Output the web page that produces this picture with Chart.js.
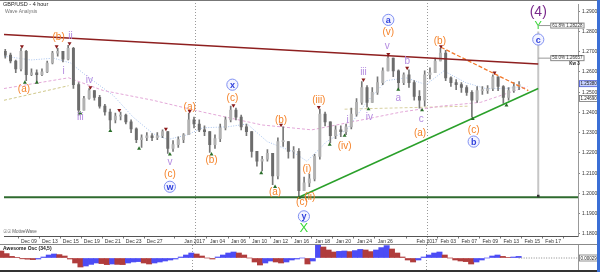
<!DOCTYPE html>
<html><head><meta charset="utf-8">
<script src="https://cdn.jsdelivr.net/npm/chart.js@4.4.0/dist/chart.umd.min.js"></script>
<style>
html,body{margin:0;padding:0;background:#fff;width:600px;height:272px;overflow:hidden;font-family:"Liberation Sans",Arial,sans-serif;}
#c1{position:absolute;left:0;top:0;}
#c2{position:absolute;left:0;top:245px;}
.t{position:absolute;white-space:nowrap;line-height:1;}
.ln{position:absolute;}
</style></head><body>
<canvas id="c1" width="600" height="245"></canvas>
<canvas id="c2" width="600" height="25"></canvas>
<div class="ln" style="left:0;top:0;width:597px;height:1px;background:#777"></div>
<div class="t" style="left:3px;top:2px;font-size:5.5px;color:#222">GBP/USD - 4 hour</div>
<div class="t" style="left:5px;top:9px;font-size:5px;color:#777">Wave Analysis</div>
<div class="t" style="left:3px;top:229.5px;font-size:4.5px;color:#555">&#9737;&#9737; MotiveWave</div>
<div class="ln" style="left:0;top:244px;width:597px;height:1px;background:#888"></div>
<div class="t" style="left:3px;top:245.5px;font-size:5px;font-weight:bold;color:#222">Awesome Osc (34,5)</div>
<div class="ln" style="left:0;top:270px;width:597px;height:2px;background:#333"></div>
<div class="ln" style="left:597px;top:0;width:3px;height:272px;background:#3b6fd6"></div>
<script>
// ---------- data ----------
const firstCandleDay = -2.25;   // trading-day index of first 12h candle (Dec 09 = 0)
const candleStep = 0.5;
const firstOpen = 1.2702;
const closes = [1.2683,1.2654,1.2615,1.2702,1.2586,1.2596,1.2586,1.2600,1.2644,1.2693,
 1.2702,1.2663,1.2717,1.2537,1.2411,1.2469,1.2508,1.2474,1.2431,1.2402,
 1.2363,1.2382,1.2387,1.2353,1.2319,1.2266,1.2275,1.2285,1.2275,1.2285,
 1.2305,1.2222,1.2241,1.2266,1.2290,1.2363,1.2343,1.2314,1.2305,1.2241,
 1.2271,1.2324,1.2363,1.2411,1.2377,1.2329,1.2305,1.2208,1.2159,1.2169,
 1.2198,1.2086,1.2256,1.2256,1.2208,1.2208,1.2014,1.2052,1.2072,1.2183,
 1.2392,1.2353,1.2285,1.2314,1.2305,1.2329,1.2392,1.2450,1.2523,1.2450,
 1.2499,1.2547,1.2605,1.2668,1.2605,1.2547,1.2586,1.2547,1.2479,1.2460,
 1.2586,1.2596,1.2654,1.2693,1.2571,1.2547,1.2537,1.2523,1.2499,1.2460,
 1.2508,1.2508,1.2518,1.2576,1.2528,1.2474,1.2508,1.2528,1.2537];
const highs = [1.2712,1.2693,1.2659,1.2717,1.2707,1.2615,1.2610,1.2615,1.2654,1.2702,
 1.2717,1.2702,1.2731,1.2722,1.2547,1.2479,1.2518,1.2508,1.2484,1.2440,
 1.2416,1.2397,1.2402,1.2392,1.2363,1.2324,1.2290,1.2300,1.2295,1.2300,
 1.2314,1.2305,1.2261,1.2280,1.2295,1.2397,1.2377,1.2363,1.2334,1.2305,
 1.2290,1.2343,1.2377,1.2431,1.2421,1.2387,1.2343,1.2305,1.2208,1.2183,
 1.2217,1.2198,1.2275,1.2329,1.2256,1.2232,1.2222,1.2081,1.2096,1.2193,
 1.2416,1.2402,1.2353,1.2334,1.2334,1.2343,1.2421,1.2469,1.2552,1.2532,
 1.2523,1.2576,1.2620,1.2683,1.2668,1.2610,1.2596,1.2610,1.2557,1.2508,
 1.2605,1.2620,1.2668,1.2717,1.2707,1.2576,1.2562,1.2547,1.2532,1.2508,
 1.2528,1.2528,1.2532,1.2586,1.2576,1.2532,1.2523,1.2547,1.2552];
const lows = [1.2668,1.2644,1.2596,1.2605,1.2557,1.2581,1.2552,1.2581,1.2596,1.2639,
 1.2678,1.2649,1.2659,1.2518,1.2387,1.2411,1.2465,1.2460,1.2421,1.2387,
 1.2319,1.2348,1.2363,1.2343,1.2300,1.2251,1.2227,1.2261,1.2261,1.2266,
 1.2275,1.2198,1.2208,1.2227,1.2251,1.2290,1.2324,1.2305,1.2285,1.2203,
 1.2222,1.2256,1.2314,1.2353,1.2363,1.2314,1.2285,1.2179,1.2135,1.2111,
 1.2159,1.2043,1.2072,1.2232,1.2174,1.2174,1.1989,1.2014,1.2033,1.2062,
 1.2169,1.2334,1.2251,1.2271,1.2280,1.2290,1.2319,1.2382,1.2440,1.2426,
 1.2450,1.2489,1.2537,1.2605,1.2576,1.2518,1.2537,1.2523,1.2460,1.2421,
 1.2431,1.2566,1.2596,1.2654,1.2557,1.2528,1.2513,1.2499,1.2484,1.2377,
 1.2450,1.2489,1.2494,1.2508,1.2508,1.2445,1.2460,1.2499,1.2513];
// Awesome Oscillator (pips)
const aoValues = [35,22,8,2,-4,-6,-8,-5,5,15,
 20,17,10,-5,-25,-45,-40,-32,-25,-28,
 -33,-30,-32,-33,-25,-20,-18,-25,-30,-25,
 -20,-15,-10,-5,5,15,25,20,10,0,
 -5,5,15,25,30,25,15,0,-20,-35,
 -25,-15,-20,-25,-20,-10,-5,0,-30,-15,
 65,55,40,30,33,35,32,37,43,40,
 32,40,52,62,45,25,5,-10,-20,-10,
 5,15,25,30,15,0,-10,-15,-18,-30,
 -20,-10,0,10,15,8,3,5,8];
// pink dashed MA, light blue dotted MA (day, price)
const pinkMA = [[-2.37,1.2518],[3.79,1.2571],[7.10,1.2508],[11.84,1.2460],[16.57,1.2402],[22.25,1.2338],[26.99,1.2314],[30.78,1.2353],[35.51,1.2402],[39.30,1.2431],[43.09,1.2450],[47.54,1.2528]];
const blueMA = [[-2.37,1.2678],[0.19,1.2659],[2.37,1.2668],[3.98,1.2644],[5.49,1.2581],[8.05,1.2484],[9.94,1.2377],[11.84,1.2295],[13.26,1.2266],[15.15,1.2290],[16.57,1.2324],[18.94,1.2329],[20.83,1.2343],[22.73,1.2256],[25.09,1.2208],[26.52,1.2159],[28.41,1.2256],[30.30,1.2314],[32.20,1.2450],[34.09,1.2557],[35.98,1.2571],[37.88,1.2537],[39.58,1.2605],[41.67,1.2547],[43.56,1.2518],[45.45,1.2518],[47.06,1.2528]];
const khakiA = [[-2.37,1.2460],[3.79,1.2532]];
const khakiB = [[30.11,1.2416],[42.0,1.2431]];
// trend lines
const resistanceLine = [[-2.37,1.2785],[48.58,1.2639]];
const flatSupport = [[-2.37,1.1981],[52.37,1.1981]];
const risingSupport = [[25.76,1.1981],[48.58,1.2518]];
const orangeDashed = [[39.3,1.2722],[47.63,1.2508]];
const targetLine = [[48.58,1.2800],[48.58,1.1981]];
const fibLevels = [[1.2829,'61.8% 1.28228'],[1.2668,'50.0% 1.26657']];
// swing markers
const peakMarkers = [[-0.66,1.2726],[2.65,1.2726],[3.88,1.2741],[5.87,1.2523],[8.62,1.2411],[13.07,1.2319],[15.34,1.2406],[19.51,1.2435],[24.05,1.2338],[27.65,1.2426],[31.91,1.2562],[34.28,1.2688],[36.08,1.2620],[39.30,1.2726],[44.41,1.2596]];
const lowMarkers = [[-0.38,1.2547],[0.76,1.2547],[4.92,1.2396],[7.77,1.2309],[10.51,1.2222],[13.45,1.2193],[17.42,1.2193],[22.16,1.2101],[23.48,1.2033],[25.76,1.1980],[28.69,1.2241],[30.11,1.2285],[32.39,1.2416],[35.23,1.2513],[37.5,1.2411],[42.33,1.2368],[45.55,1.2435]];
// wave labels (day, price, text)
const orangeLabels = [[-0.47,1.2513,'(a)'],[2.84,1.2770,'(b)'],[13.45,1.2096,'(c)'],[15.34,1.2426,'(a)'],[17.42,1.2164,'(b)'],[19.41,1.2469,'(c)'],[23.48,1.2004,'(a)'],[24.05,1.2363,'(b)'],[26.8,1.1979,'(ii)'],[26.04,1.1955,'(c)'],[26.52,1.2120,'(i)'],[27.65,1.2460,'(iii)'],[30.11,1.2232,'(iv)'],[34.28,1.2794,'(v)'],[37.31,1.2295,'(a)'],[39.2,1.2751,'(b)'],[42.42,1.2314,'(c)']];
const purpleLabels = [[3.31,1.2605,'i'],[3.98,1.2775,'ii'],[4.92,1.2377,'iii'],[5.78,1.2557,'iv'],[13.45,1.2154,'v'],[30.4,1.2363,'i'],[31.91,1.2596,'iii'],[32.48,1.2377,'iv'],[34.19,1.2726,'v'],[35.23,1.2469,'a'],[36.08,1.2654,'b'],[37.41,1.2368,'c']];
const circledLabels = [[13.45,1.2033,'w'],[19.41,1.2537,'x'],[26.23,1.1887,'y'],[34.28,1.2857,'a'],[42.42,1.2256,'b'],[48.58,1.2760,'c']];
const greenLabels = [[26.23,1.1829,'X'],[48.58,1.2828,'Y']];
const degreeLabels = [[48.58,1.2896,'(4)']];
const axisPriceBoxes = [[1.2542,'1.25380'],[1.2469,'1.24690']];
// axes
const X_MIN = -2.37, X_MAX = 52.37, Y_MIN = 1.17874, Y_MAX = 1.29354;
const dateTickDays = [0,2,4,6,8,10,12,15.81,18,20,22,24,26,28,30,32,34,37.97,40,42,44,46,48,50];
const dateTickLabels = ['Dec 09','Dec 13','Dec 15','Dec 19','Dec 21','Dec 23','Dec 27','Jan 2017','Jan 04','Jan 06','Jan 10','Jan 12','Jan 16','Jan 18','Jan 20','Jan 24','Jan 26','Feb 2017','Feb 03','Feb 07','Feb 09','Feb 13','Feb 15','Feb 17'];
const priceTicks = [1.18,1.19,1.20,1.21,1.22,1.23,1.24,1.25,1.26,1.27,1.28,1.29];
const separatorDays = [15.81,37.97];
const aoMin = -60, aoMax = 65;

// ---------- build ----------
const FONT = '"Liberation Sans", Arial, sans-serif';
const candleX = closes.map((_, i) => firstCandleDay + candleStep * i);
const opens = closes.map((c, i) => i === 0 ? firstOpen : closes[i - 1]);
const pts = arr => arr.map(([x, y]) => ({x, y}));

const separatorPlugin = {
  id: 'sep',
  beforeDatasetsDraw(chart) {
    const {ctx, scales: {x}} = chart;
    ctx.save();
    ctx.strokeStyle = '#9a9a9a'; ctx.lineWidth = 1; ctx.setLineDash([1, 2]);
    separatorDays.forEach(d => {
      const px = Math.round(x.getPixelForValue(d)) + 0.5;
      ctx.beginPath(); ctx.moveTo(px, 0); ctx.lineTo(px, chart.height); ctx.stroke();
    });
    ctx.restore();
  }
};

const labelPlugin = {
  id: 'waveLabels',
  afterDatasetsDraw(chart) {
    const {ctx, scales: {x, y}, chartArea} = chart;
    const P = (d, p) => [x.getPixelForValue(d), y.getPixelForValue(p)];
    ctx.save();
    ctx.textAlign = 'center'; ctx.textBaseline = 'middle';
    ctx.font = '10px ' + FONT; ctx.fillStyle = '#f5832a';
    orangeLabels.forEach(([d, p, t]) => { const [a, b] = P(d, p); ctx.fillText(t, a, b); });
    ctx.fillStyle = '#b48be0';
    purpleLabels.forEach(([d, p, t]) => { const [a, b] = P(d, p); ctx.fillText(t, a, b); });
    circledLabels.forEach(([d, p, t]) => {
      const [a, b] = P(d, p);
      ctx.beginPath(); ctx.arc(a, b, 5.6, 0, Math.PI * 2);
      ctx.fillStyle = '#f3f4ff'; ctx.fill();
      ctx.strokeStyle = '#8090f2'; ctx.lineWidth = 1; ctx.stroke();
      ctx.fillStyle = '#2f40dc'; ctx.font = 'bold 9px ' + FONT;
      ctx.fillText(t, a, b + 0.5);
    });
    ctx.fillStyle = '#3ad83a';
    greenLabels.forEach(([d, p, t]) => {
      const [a, b] = P(d, p);
      ctx.font = (t === 'X' ? '13px ' : '11px ') + FONT; ctx.fillText(t, a, b);
    });
    ctx.fillStyle = '#7a2a8c'; ctx.font = '14px ' + FONT;
    degreeLabels.forEach(([d, p, t]) => { const [a, b] = P(d, p); ctx.fillText(t, a, b); });
    // fib boxes
    ctx.font = '4.5px ' + FONT; ctx.textAlign = 'left';
    fibLevels.forEach(([p, t]) => {
      const yy = y.getPixelForValue(p);
      const x0 = x.getPixelForValue(targetLine[0][0]);
      ctx.strokeStyle = '#999'; ctx.lineWidth = 1;
      ctx.beginPath(); ctx.moveTo(x0, yy); ctx.lineTo(x0 + 12, yy); ctx.stroke();
      const w = ctx.measureText(t).width + 3;
      ctx.fillStyle = '#fff'; ctx.fillRect(x0 + 12, yy - 2.5, w, 5);
      ctx.strokeStyle = '#888'; ctx.strokeRect(x0 + 12.5, yy - 2.5, w, 5);
      ctx.fillStyle = '#333'; ctx.fillText(t, x0 + 14, yy);
    });
    ctx.font = 'bold 4.5px ' + FONT; ctx.fillStyle = '#222';
    ctx.fillText('Kw 3', x.getPixelForValue(targetLine[0][0]) + 31, y.getPixelForValue(fibLevels[1][0]) + 6);
    // axis price boxes
    axisPriceBoxes.forEach(([p, t], i) => {
      const yy = y.getPixelForValue(p);
      ctx.fillStyle = i === 0 ? '#c9d2ff' : '#fff';
      ctx.fillRect(chartArea.right + 1, yy - 3, 19, 6);
      ctx.strokeStyle = i === 0 ? '#4a5ad0' : '#777'; ctx.lineWidth = 0.8;
      ctx.strokeRect(chartArea.right + 1.5, yy - 3, 18.5, 6);
      ctx.fillStyle = '#222'; ctx.font = '4.5px ' + FONT;
      ctx.fillText(t, chartArea.right + 2.5, yy + 0.3);
    });
    ctx.restore();
  }
};

const lineDs = (data, color, width, dash, order) => ({
  type: 'line', data: pts(data), borderColor: color, borderWidth: width,
  borderDash: dash || [], pointRadius: 0, fill: false, tension: 0, order
});
const markerDs = (data, color, rot) => ({
  type: 'line', data: pts(data), showLine: false, pointStyle: 'triangle',
  pointRadius: 2.3, pointRotation: rot, pointBackgroundColor: color,
  pointBorderColor: color, pointBorderWidth: 0, order: 1
});

new Chart(document.getElementById('c1'), {
  type: 'bar',
  data: {
    datasets: [
      lineDs(pinkMA, '#e3a8d8', 1, [3, 2], 20),
      lineDs(blueMA, '#a9c4ee', 1, [1, 1.5], 20),
      lineDs(khakiA, '#cfc88a', 1, [3, 2], 20),
      lineDs(khakiB, '#d8d0a0', 1, [3, 2], 20),
      { type: 'bar', data: candleX.map((x, i) => ({x, y: [lows[i], highs[i]]})),
        backgroundColor: '#787878', barThickness: 1, grouped: false, order: 10 },
      { type: 'bar', data: candleX.map((x, i) => ({x, y: [opens[i], closes[i]]})),
        backgroundColor: closes.map((c, i) => c >= opens[i] ? '#b2b2b2' : '#6c6c6c'),
        barThickness: 2.3, minBarLength: 1, grouped: false, order: 9 },
      lineDs(targetLine, '#c6c6c6', 2, [], 8),
      lineDs(resistanceLine, '#8e1f1f', 1.5, [], 3),
      lineDs(flatSupport, '#2f6b2f', 2, [], 3),
      lineDs(risingSupport, '#2aa02a', 1.5, [], 3),
      lineDs(orangeDashed, '#f2782a', 1.3, [4, 2], 3),
      markerDs(peakMarkers, '#8a1a1a', 180),
      markerDs(lowMarkers, '#2a6e2a', 0),
      { type: 'line', data: [{x: targetLine[1][0], y: targetLine[1][1] + 0.0006}], showLine: false,
        pointStyle: 'rect', pointRadius: 1.8, pointBackgroundColor: '#333', pointBorderWidth: 0, order: 1 }
    ]
  },
  options: {
    responsive: false, animation: false, devicePixelRatio: 1,
    layout: {padding: 0},
    plugins: {legend: {display: false}, tooltip: {enabled: false}},
    scales: {
      x: {
        type: 'linear', min: X_MIN, max: X_MAX, offset: false,
        afterBuildTicks: s => { s.ticks = dateTickDays.map(v => ({value: v})); },
        afterFit: s => { s.height = 8.5; s.paddingLeft = 0; s.paddingRight = 0; },
        ticks: {autoSkip: false, maxRotation: 0, minRotation: 0, padding: 0.5,
          font: {size: 5, family: FONT}, color: '#333', callback: (v, i) => dateTickLabels[i]},
        grid: {drawOnChartArea: false, tickLength: 2, color: '#777'},
        border: {color: '#555'}
      },
      y: {
        position: 'right', min: Y_MIN, max: Y_MAX,
        afterBuildTicks: s => { s.ticks = priceTicks.map(v => ({value: v})); },
        afterFit: s => { s.width = 22; s.paddingTop = 0; s.paddingBottom = 0; },
        ticks: {padding: 2, font: {size: 5, family: FONT}, color: '#333', callback: v => v.toFixed(5)},
        grid: {drawOnChartArea: false, tickLength: 2, color: '#888'},
        border: {color: '#999'}
      }
    }
  },
  plugins: [separatorPlugin, labelPlugin]
});

const aoPlugin = {
  id: 'aoBox',
  afterDatasetsDraw(chart) {
    const {ctx, scales: {y}, chartArea} = chart;
    const yy = y.getPixelForValue(0);
    ctx.save();
    ctx.fillStyle = '#fff'; ctx.fillRect(chartArea.right + 1, yy - 3, 19, 6);
    ctx.strokeStyle = '#777'; ctx.lineWidth = 0.8; ctx.strokeRect(chartArea.right + 1.5, yy - 3, 18.5, 6);
    ctx.fillStyle = '#222'; ctx.font = '4.5px ' + FONT; ctx.textBaseline = 'middle';
    ctx.fillText('0.00029', chartArea.right + 2.5, yy + 0.3);
    ctx.restore();
  }
};

new Chart(document.getElementById('c2'), {
  type: 'bar',
  data: {
    datasets: [
      { type: 'bar', data: candleX.map((x, i) => ({x, y: aoValues[i]})),
        backgroundColor: aoValues.map((v, i) => (i > 0 && v > aoValues[i - 1]) ? '#4c4cf5' : '#b03c3c'),
        barThickness: 5.3, grouped: false, order: 2 },
      lineDs([[candleX[candleX.length - 1], 0], [X_MAX, 0]], '#888', 1, [1, 1.5], 1)
    ]
  },
  options: {
    responsive: false, animation: false, devicePixelRatio: 1,
    layout: {padding: 0},
    plugins: {legend: {display: false}, tooltip: {enabled: false}},
    scales: {
      x: {type: 'linear', min: X_MIN, max: X_MAX, offset: false, display: false},
      y: {
        position: 'right', min: aoMin, max: aoMax,
        afterFit: s => { s.width = 22; s.paddingTop = 0; s.paddingBottom = 0; },
        ticks: {display: false},
        grid: {drawOnChartArea: false, drawTicks: false},
        border: {color: '#999'}
      }
    }
  },
  plugins: [separatorPlugin, aoPlugin]
});
</script>
</body></html>
